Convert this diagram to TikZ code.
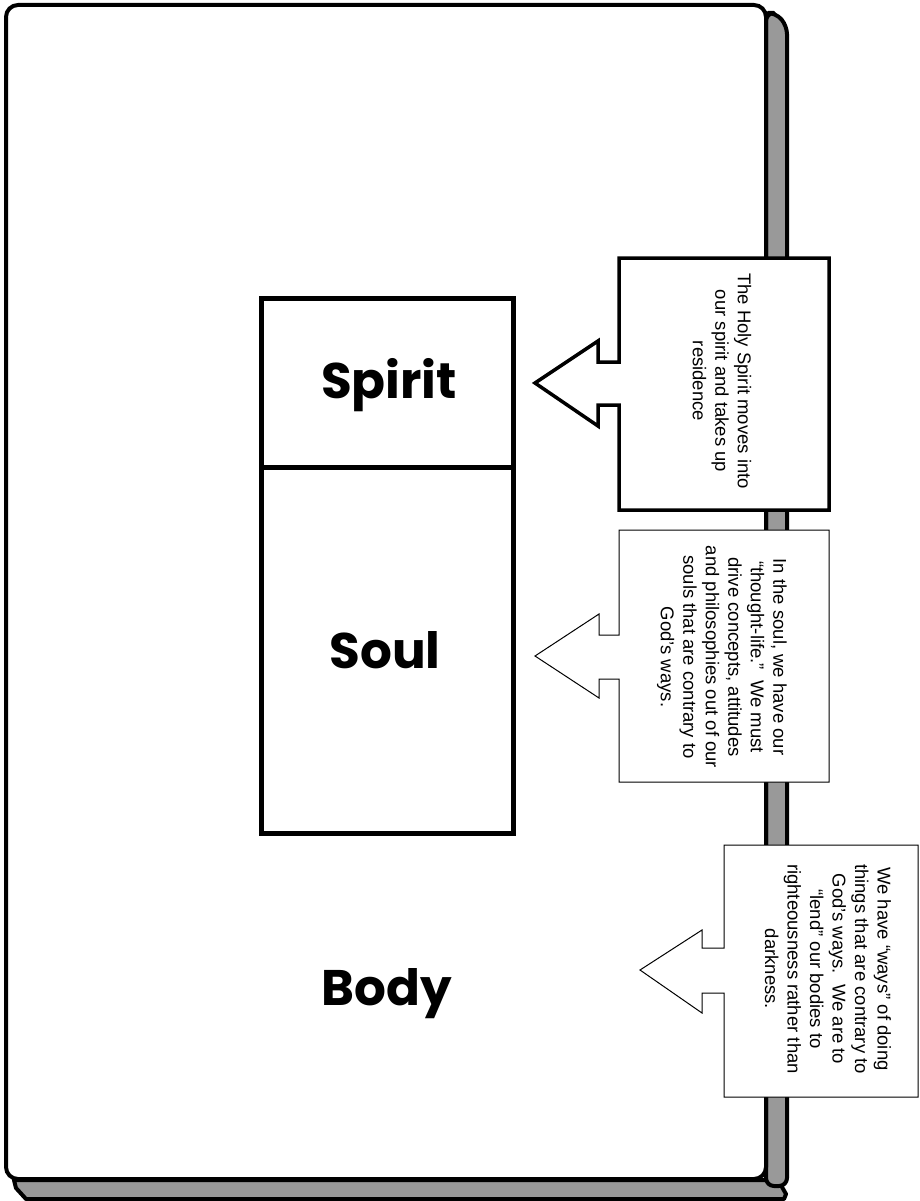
\documentclass[tikz,border=0pt]{standalone}
\usepackage{fontspec}
\setmainfont{Liberation Sans}
\newfontfamily\labelfont{Poppins}

\definecolor{spine-grey}{HTML}{999999}

\tikzstyle{part-box}=[draw, line width=5pt, minimum width=252pt, inner sep=0pt]
\tikzstyle{part-label}=[font=\labelfont\bfseries\fontsize{50}{56}\selectfont]
\tikzstyle{note-text}=[rotate=-90, align=center, inner sep=0pt, font=\fontsize{18.5}{22.5}\selectfont]
\tikzstyle{spine}=[draw, fill={spine-grey}, line width=4pt, line join=round]

\begin{document}
\begin{tikzpicture}[x=1pt, y=-1pt]
  \useasboundingbox (0,0) rectangle (920,1201);

  % book spines behind the page
  \draw [spine] (14,1180) -- (778,1180) -- (786,1194) -- (784,1199) -- (26,1199) -- (16,1188) -- cycle;
  \draw [spine, rounded corners=8pt] (766,13) -- (776,13) -- (787,26) -- (787,1186) -- (766,1186) -- cycle;

  % the page
  \draw [line width=4pt, fill=white, rounded corners=12pt] (6,5) rectangle (766,1179);

  % spirit / soul / body
  \node (spirit) at (387.5,382.5) [part-box, minimum height=169pt] {};
  \node (soul)   at (387.5,650)   [part-box, minimum height=366pt] {};
  \node (spirit-label) at (389,385) [part-label] {Spirit};
  \node (soul-label)   at (385,650) [part-label] {Soul};
  \node (body-label)   at (387,994) [part-label] {Body};

  % callouts
  \draw [line width=3.5pt, fill=white, line join=miter]
    (619,258) -- (829,258) -- (829,510) -- (619,510) -- (619,405) -- (598,405) -- (598,426)
    -- (535,383) -- (598,341) -- (598,362) -- (619,362) -- cycle;
  \draw [line width=1pt, fill=white]
    (619,530) -- (829,530) -- (829,782) -- (619,782) -- (619,679) -- (599,679) -- (599,698)
    -- (535,656) -- (599,614) -- (599,635) -- (619,635) -- cycle;
  \draw [line width=1pt, fill=white]
    (724,845) -- (918,845) -- (918,1097) -- (724,1097) -- (724,993) -- (702,993) -- (702,1013)
    -- (640,970) -- (702,930) -- (702,948) -- (724,948) -- cycle;

  \node (note:spirit) at (722,381) [note-text] {The Holy Spirit moves into\\our spirit and takes up\\residence};
  \node (note:soul)   at (722,657) [note-text] {In the soul, we have our\\``thought-life.''\ \ We must\\drive concepts, attitudes\\and philosophies out of our\\souls that are contrary to\\God's ways.};
  \node (note:body)   at (828,969) [note-text] {We have ``ways'' of doing\\things that are contrary to\\God's ways.\ \ We are to\\``lend'' our bodies to\\righteousness rather than\\darkness.};
\end{tikzpicture}
\end{document}
